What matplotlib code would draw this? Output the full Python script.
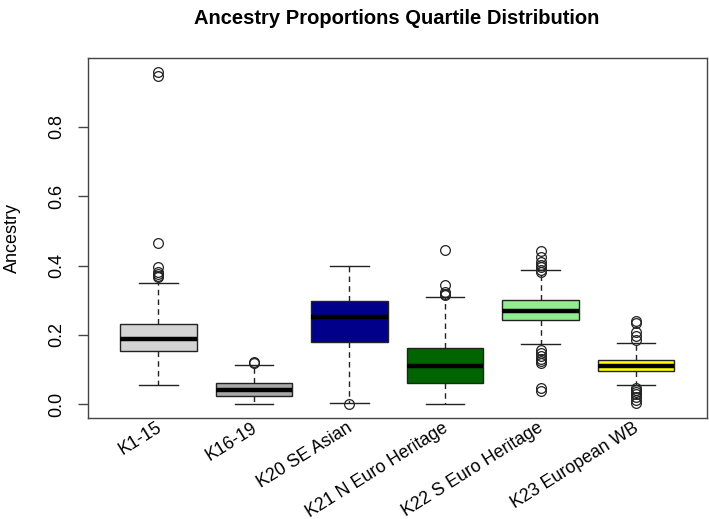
import matplotlib.pyplot as plt
import matplotlib.transforms as mtransforms

# ancestry components
labels = ["K1-15", "K16-19", "K20 SE Asian", "K21 N Euro Heritage",
          "K22 S Euro Heritage", "K23 European WB"]
q1 = [0.153, 0.025, 0.180, 0.063, 0.243, 0.096]
med = [0.188, 0.043, 0.251, 0.110, 0.270, 0.112]
q3 = [0.231, 0.061, 0.297, 0.163, 0.300, 0.129]
whislo = [0.055, 0.000, 0.003, 0.000, 0.173, 0.057]
whishi = [0.350, 0.114, 0.399, 0.309, 0.386, 0.178]
fliers = [
    [0.957, 0.945, 0.465, 0.396, 0.381, 0.376, 0.371, 0.366],
    [0.120, 0.123],
    [0.000],
    [0.444, 0.343, 0.324, 0.319, 0.314],
    [0.442, 0.424, 0.410, 0.402, 0.395, 0.388, 0.382,
     0.158, 0.148, 0.140, 0.132, 0.125, 0.118, 0.046, 0.040],
    [0.239, 0.234, 0.208, 0.196, 0.186,
     0.048, 0.042, 0.036, 0.030, 0.022, 0.012, 0.003],
]
colors = ["#D3D3D3", "#A9A9A9", "#00008B", "#006400", "#90EE90", "#FFFF00"]

plt.rcParams['font.family'] = ['Liberation Sans', 'DejaVu Sans']

stats = []
for i in range(len(labels)):
    stats.append(dict(label=labels[i], q1=q1[i], med=med[i], q3=q3[i],
                      whislo=whislo[i], whishi=whishi[i], fliers=fliers[i]))

fig = plt.figure(figsize=(7.09, 5.19), dpi=100)
ax = fig.add_axes([0.1237, 0.195, 0.9968 - 0.1237, 0.889 - 0.195])

bp = ax.bxp(stats, widths=0.8, capwidths=0.4, patch_artist=True,
            boxprops=dict(edgecolor="#222222", linewidth=1.0),
            medianprops=dict(color="black", linewidth=3.2, solid_capstyle="butt"),
            whiskerprops=dict(color="#222222", linewidth=1.0, linestyle=(0, (4, 3))),
            capprops=dict(color="#222222", linewidth=1.0),
            flierprops=dict(marker="o", markerfacecolor="none",
                            markeredgecolor="#222222", markersize=7,
                            markeredgewidth=0.9))
for patch, c in zip(bp["boxes"], colors):
    patch.set_facecolor(c)

ax.set_xlim(0.26, 6.74)
ax.set_ylim(-0.0384, 0.9986)
ax.set_yticks([0.0, 0.2, 0.4, 0.6, 0.8])
ax.set_yticklabels(["0.0", "0.2", "0.4", "0.6", "0.8"], rotation=90, va="center")
ax.tick_params(axis="y", length=7.5, width=1.0, color="#444444", pad=9, labelsize=13)
ax.tick_params(axis="x", length=0, pad=1)
ax.set_xticks(range(1, len(labels) + 1))
ax.set_xticklabels(labels, rotation=32, ha="right", va="top",
                   rotation_mode="anchor", fontsize=12.8)
shift = mtransforms.ScaledTranslation(-3 / 100, 0, fig.dpi_scale_trans)
for t in ax.get_xticklabels():
    t.set_transform(t.get_transform() + shift)
for s in ax.spines.values():
    s.set_color("#444444")
    s.set_linewidth(1.0)

ax.set_ylabel("Ancestry", fontsize=13, labelpad=19)
fig.text(0.56, 1 - 18 / 519, "Ancestry Proportions Quartile Distribution",
         ha="center", va="center", fontsize=14.5, fontweight="bold")

fig.savefig("out.png", dpi=100)
